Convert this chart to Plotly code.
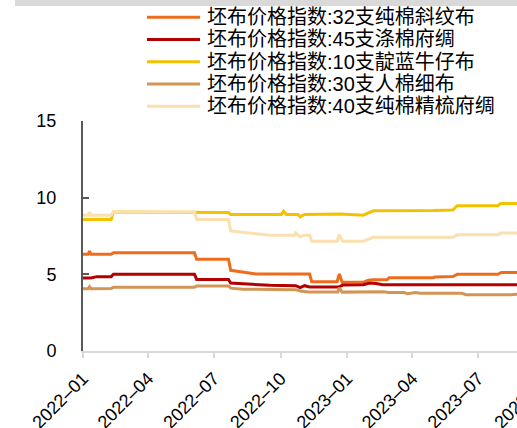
import plotly.graph_objects as go

# ---- data: grey-cloth price indices (breakpoints of each series) ----
names = [
    "坯布价格指数:32支纯棉斜纹布",
    "坯布价格指数:45支涤棉府绸",
    "坯布价格指数:10支靛蓝牛仔布",
    "坯布价格指数:30支人棉细布",
    "坯布价格指数:40支纯棉精梳府绸",
]

dates_32 = ["2022-01-01", "2022-01-08", "2022-01-10", "2022-01-12", "2022-02-09", "2022-02-12",
            "2022-06-04", "2022-06-07", "2022-07-21", "2022-07-24", "2022-08-29", "2022-11-10",
            "2022-11-13", "2022-12-18", "2022-12-21", "2022-12-25", "2023-01-23", "2023-01-30",
            "2023-02-06", "2023-02-25", "2023-02-28", "2023-04-30", "2023-05-02", "2023-05-27",
            "2023-06-02", "2023-07-28", "2023-08-02", "2023-08-31"]
vals_32 = [6.31, 6.31, 6.52, 6.31, 6.31, 6.40,
           6.40, 5.98, 5.98, 5.26, 5.02, 5.02,
           4.52, 4.52, 5.02, 4.48, 4.48, 4.62,
           4.65, 4.65, 4.78, 4.78, 4.83, 4.86,
           5.00, 5.00, 5.12, 5.12]

dates_45 = ["2022-01-01", "2022-01-12", "2022-01-20", "2022-02-09", "2022-02-12", "2022-06-04",
            "2022-06-07", "2022-07-21", "2022-07-24", "2022-09-16", "2022-10-22", "2022-10-28",
            "2022-11-03", "2022-11-10", "2022-12-20", "2022-12-26", "2023-01-23", "2023-02-01",
            "2023-02-10", "2023-02-19", "2023-08-31"]
vals_45 = [4.76, 4.76, 4.85, 4.85, 5.00, 5.00,
           4.67, 4.67, 4.43, 4.28, 4.26, 4.13,
           4.26, 4.17, 4.17, 4.30, 4.32, 4.43,
           4.40, 4.32, 4.32]

dates_10 = ["2022-01-01", "2022-02-09", "2022-02-12", "2022-06-04", "2022-07-21", "2022-07-24",
            "2022-10-02", "2022-10-05", "2022-10-09", "2022-10-25", "2022-10-28", "2022-11-03",
            "2022-12-20", "2022-12-23", "2023-01-23", "2023-02-06", "2023-04-30", "2023-05-27",
            "2023-06-02", "2023-07-28", "2023-08-01", "2023-08-31"]
vals_10 = [8.58, 8.58, 9.07, 9.07, 9.03, 8.90,
           8.90, 9.12, 8.90, 8.90, 8.75, 8.90,
           8.90, 8.93, 8.86, 9.14, 9.16, 9.20,
           9.48, 9.48, 9.62, 9.62]

dates_30 = ["2022-01-01", "2022-01-08", "2022-01-10", "2022-01-12", "2022-02-09", "2022-02-12",
            "2022-06-04", "2022-06-07", "2022-07-21", "2022-07-24", "2022-08-10", "2022-10-22",
            "2022-10-28", "2022-11-08", "2022-12-19", "2022-12-21", "2022-12-25", "2023-01-30",
            "2023-02-20", "2023-02-27", "2023-03-20", "2023-03-25", "2023-04-05", "2023-04-12",
            "2023-06-08", "2023-06-14", "2023-08-15", "2023-08-31"]
vals_30 = [4.06, 4.06, 4.20, 4.06, 4.08, 4.15,
           4.15, 4.24, 4.24, 4.10, 4.03, 4.00,
           3.91, 3.85, 3.85, 4.12, 3.84, 3.87,
           3.87, 3.82, 3.82, 3.74, 3.82, 3.77,
           3.77, 3.67, 3.67, 3.74]

dates_40 = ["2022-01-01", "2022-01-08", "2022-01-10", "2022-01-12", "2022-02-09", "2022-02-12",
            "2022-06-04", "2022-06-07", "2022-07-21", "2022-07-24", "2022-09-16", "2022-10-20",
            "2022-10-22", "2022-10-28", "2022-11-02", "2022-11-10", "2022-11-13", "2022-12-18",
            "2022-12-21", "2022-12-26", "2023-01-23", "2023-02-06", "2023-05-27", "2023-06-02",
            "2023-07-28", "2023-08-01", "2023-08-31"]
vals_40 = [8.86, 8.86, 9.05, 8.86, 8.86, 9.07,
           9.07, 8.58, 8.58, 7.83, 7.55, 7.55,
           7.70, 7.44, 7.55, 7.55, 7.16, 7.16,
           7.58, 7.16, 7.16, 7.42, 7.42, 7.58,
           7.58, 7.70, 7.70]

colors = ["#EE6D1C", "#B30000", "#F2C200", "#D29556", "#FBDFAF"]
series = [(dates_32, vals_32), (dates_45, vals_45), (dates_10, vals_10),
          (dates_30, vals_30), (dates_40, vals_40)]

x_range = ["2022-01-01", "2023-10-15"]
y_ticks = [0, 5, 10, 15]

# ---- figure geometry (pixels) ----
W, H = 555, 428
L, R, T, B = 83, 0, 121, 77
PW, PH = W - L - R, H - T - B


def px(x):
    return (x - L) / PW


def py(y):
    return (H - B - y) / PH


FONT = "Liberation Sans, Arial, Noto Sans CJK SC, sans-serif"

fig = go.Figure()
for (d, v), name, c in zip(series, names, colors):
    fig.add_trace(go.Scatter(x=d, y=v, name=name, mode="lines",
                             line=dict(color=c, width=3), showlegend=False))

# hand-placed legend block above the plot
row_y = [17.3, 39.5, 61.8, 84.0, 106.3]
shapes = [dict(type="rect", xref="paper", yref="paper",
               x0=px(15), x1=px(W + 5), y0=py(6), y1=py(-2),
               fillcolor="#D9D9D9", line=dict(width=0), layer="above")]
annotations = []
for name, c, yy in zip(names, colors, row_y):
    shapes.append(dict(type="line", xref="paper", yref="paper",
                       x0=px(147), x1=px(200), y0=py(yy), y1=py(yy),
                       line=dict(color=c, width=3)))
    annotations.append(dict(text=name, xref="paper", yref="paper",
                            x=px(205), y=py(yy), xanchor="left", yanchor="middle",
                            showarrow=False, font=dict(size=20, color="#000000", family=FONT)))

fig.update_layout(
    width=W, height=H,
    margin=dict(l=L, r=R, t=T, b=B, pad=0, autoexpand=False),
    paper_bgcolor="white", plot_bgcolor="white",
    font=dict(family=FONT, color="#000000"),
    shapes=shapes, annotations=annotations,
    xaxis=dict(type="date", range=x_range, dtick="M3", tick0="2022-01-01",
               tickformat="%Y–%m", tickangle=-45, tickfont=dict(size=18),
               showgrid=False, zeroline=False, showline=True, automargin=False,
               linecolor="#D9D9D9", linewidth=2,
               ticks="outside", ticklen=5, tickwidth=2, tickcolor="#D9D9D9",
               ticklabelstandoff=3),
    yaxis=dict(range=[0, 15], tickvals=y_ticks, tickfont=dict(size=18),
               showgrid=False, zeroline=False, showline=True, automargin=False,
               linecolor="#595959", linewidth=2,
               ticks="inside", ticklen=6, tickwidth=2, tickcolor="#595959",
               ticklabelstandoff=21),
)

fig.write_html("out.html",
               post_script="document.documentElement.style.overflow='hidden';"
                           "document.body.style.overflow='hidden';")
